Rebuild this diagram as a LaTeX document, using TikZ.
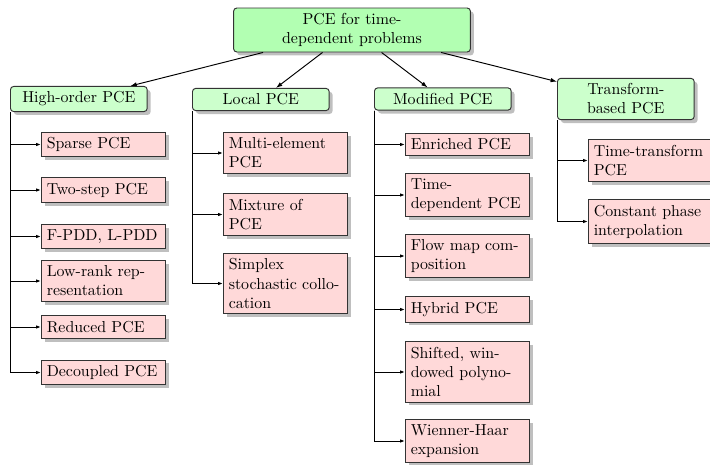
\documentclass[tikz,border=0pt]{standalone}
\usetikzlibrary{shadows,arrows.meta}
\begin{document}
\begin{tikzpicture}[x=0.629pt,y=-0.629pt,
  rootbox/.style={draw=black!80, semithick, fill=green!30, rounded corners=2pt,
    drop shadow, text width=5cm, align=center},
  catbox/.style={draw=black!80, semithick, fill=green!20, rounded corners=2pt,
    drop shadow, text width=76pt, inner xsep=5pt, align=center, anchor=west},
  leafbox/.style={draw=black!80, semithick, fill=red!15, drop shadow,
    text width=2.5cm, align=left, anchor=west},
  topconn/.style={semithick, -{Latex[length=4pt,width=2.8pt]}},
  leafconn/.style={semithick, -{Latex[length=3pt,width=2.1pt]}}
]
\useasboundingbox (0,0) rectangle (710,465);

\node[rootbox] (root) at (352,30) {PCE for time-\\dependent problems};

\node[catbox] (ho) at (10,99) {High-order PCE};
\node[catbox] (lo) at (192,99.5) {Local PCE};
\node[catbox] (mo) at (374,99) {Modified PCE};
\node[catbox] (tb) at (557,99) {Transform-\\based PCE};

% High-order children
\node[leafbox] (h1) at (41,144.5) {Sparse PCE};
\node[leafbox] (h2) at (41,190) {Two-step PCE};
\node[leafbox] (h3) at (41,236.5) {F-PDD, L-PDD};
\node[leafbox] (h4) at (41,281) {Low-rank rep-\\resentation};
\node[leafbox] (h5) at (41,327) {Reduced PCE};
\node[leafbox] (h6) at (41,372.5) {Decoupled PCE};

% Local children
\node[leafbox] (l1) at (223,153) {Multi-element\\PCE};
\node[leafbox] (l2) at (223,214.5) {Mixture of\\PCE};
\node[leafbox] (l3) at (223,283.5) {Simplex\\stochastic collo-\\cation};

% Modified children
\node[leafbox] (m1) at (405,144.5) {Enriched PCE};
\node[leafbox] (m2) at (405,195) {Time-\\dependent PCE};
\node[leafbox] (m3) at (405,256) {Flow map com-\\position};
\node[leafbox] (m4) at (405,309.5) {Hybrid PCE};
\node[leafbox] (m5) at (405,372) {Shifted, win-\\dowed polyno-\\mial};
\node[leafbox] (m6) at (405,441) {Wienner-Haar\\expansion};

% Transform children
\node[leafbox] (t1) at (588,160.5) {Time-transform\\PCE};
\node[leafbox] (t2) at (588,221.5) {Constant phase\\interpolation};

% top connectors
\draw[topconn] (root) -- (ho);
\draw[topconn] (root) -- (lo);
\draw[topconn] (root) -- (mo);
\draw[topconn] (root) -- (tb);

% leaf connectors
\foreach \c in {h1,h2,h3,h4,h5,h6} \draw[leafconn] (ho.south west) |- (\c.west);
\foreach \c in {l1,l2,l3} \draw[leafconn] (lo.south west) |- (\c.west);
\foreach \c in {m1,m2,m3,m4,m5,m6} \draw[leafconn] (mo.south west) |- (\c.west);
\foreach \c in {t1,t2} \draw[leafconn] (tb.south west) |- (\c.west);
\end{tikzpicture}
\end{document}
